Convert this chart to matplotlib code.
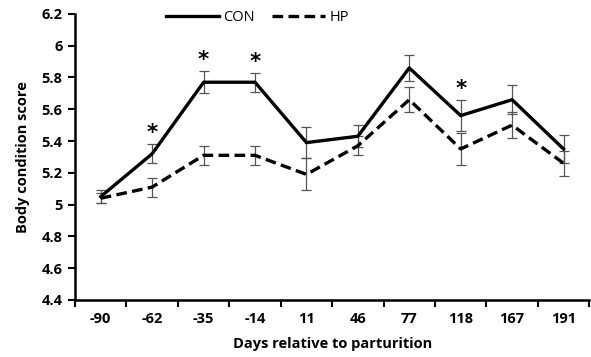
import matplotlib
matplotlib.use("Agg")
import matplotlib.pyplot as plt
from matplotlib.lines import Line2D
import numpy as np

days = ["-90", "-62", "-35", "-14", "11", "46", "77", "118", "167", "191"]
con = [5.05, 5.32, 5.77, 5.77, 5.39, 5.43, 5.86, 5.56, 5.66, 5.35]
con_err = [0.04, 0.06, 0.07, 0.06, 0.10, 0.07, 0.08, 0.10, 0.09, 0.09]
hp = [5.04, 5.11, 5.31, 5.31, 5.19, 5.37, 5.66, 5.35, 5.50, 5.26]
hp_err = [0.03, 0.06, 0.06, 0.06, 0.10, 0.06, 0.08, 0.10, 0.08, 0.08]
sig = ["-62", "-35", "-14", "118"]

plt.rcParams['font.family'] = ['Open Sans', 'DejaVu Sans']
fig = plt.figure(figsize=(5.91, 3.57), dpi=100)
ax = fig.add_axes([0.127, 0.16, 0.870, 0.801])
x = np.arange(len(days))
dash = (0, (3.2, 1.6))
ax.errorbar(x, con, yerr=con_err, color='black', lw=2.4, ecolor='#555555',
            elinewidth=0.9, capsize=3.5, capthick=0.9)
ax.errorbar(x, hp, yerr=hp_err, color='black', lw=2.4, ls=dash, ecolor='#555555',
            elinewidth=0.9, capsize=3.5, capthick=0.9)
for i, d in enumerate(days):
    if d in sig:
        ax.annotate('*', (i, con[i] + con_err[i]), xytext=(0, 0.5), textcoords='offset points',
                    ha='center', va='bottom', fontsize=15.5, fontweight='bold',
                    family='DejaVu Sans')

ax.set_xlim(-0.5, len(days) - 0.5)
ax.set_ylim(4.4, 6.2)
ax.set_yticks(np.arange(4.4, 6.21, 0.2))
ax.set_yticklabels(['4.4', '4.6', '4.8', '5', '5.2', '5.4', '5.6', '5.8', '6', '6.2'])
ax.set_xticks(x)
ax.set_xticklabels(days)
ax.set_xticks(np.arange(-0.5, len(days), 1), minor=True)
ax.tick_params(axis='x', which='major', length=0, pad=9)
ax.tick_params(axis='x', which='minor', length=5, width=1.5, direction='out')
ax.tick_params(axis='y', length=5, width=1.5, direction='out', pad=4)
for lab in ax.get_xticklabels() + ax.get_yticklabels():
    lab.set_fontweight('bold')
    lab.set_fontsize(10.5)
for s in ['top', 'right']:
    ax.spines[s].set_visible(False)
for s in ['left', 'bottom']:
    ax.spines[s].set_linewidth(1.8)
ax.set_xlabel('Days relative to parturition', fontweight='bold', fontsize=10.5, labelpad=8)
ax.set_ylabel('Body condition score', fontweight='bold', fontsize=10.5, labelpad=8)
handles = [Line2D([], [], color='black', lw=2.4),
           Line2D([], [], color='black', lw=2.4, ls=dash)]
ax.legend(handles, ['CON', 'HP'], loc='upper center', bbox_to_anchor=(0.355, 1.06), ncol=2,
          frameon=False, fontsize=10.5, handlelength=3.6, columnspacing=1.2, handletextpad=0.3)
fig.savefig('out.png', dpi=100)
